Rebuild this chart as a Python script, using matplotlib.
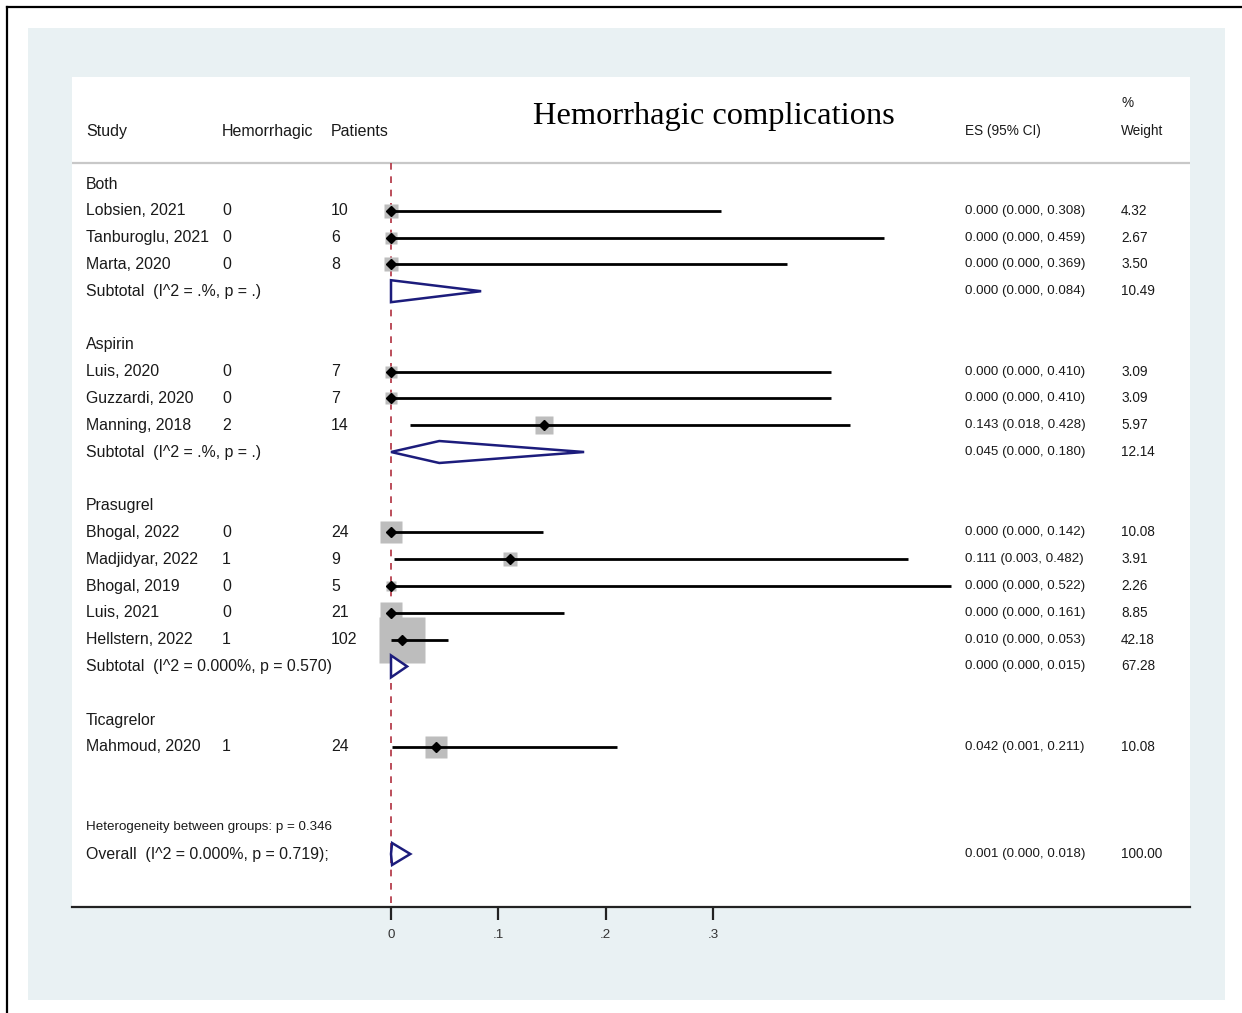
import numpy as np
import matplotlib
matplotlib.use("Agg")
import matplotlib.pyplot as plt
from matplotlib.transforms import blended_transform_factory
from matplotlib.lines import Line2D
from matplotlib.patches import Rectangle

plt.rcParams['font.family'] = ['Liberation Sans', 'DejaVu Sans']

# ---- data ----
groups = ["Both", "Aspirin", "Prasugrel", "Ticagrelor"]
group_of = [0, 0, 0, 1, 1, 1, 2, 2, 2, 2, 2, 3]
studies = ["Lobsien, 2021", "Tanburoglu, 2021", "Marta, 2020",
           "Luis, 2020", "Guzzardi, 2020", "Manning, 2018",
           "Bhogal, 2022", "Madjidyar, 2022", "Bhogal, 2019", "Luis, 2021", "Hellstern, 2022",
           "Mahmoud, 2020"]
events = [0, 0, 0, 0, 0, 2, 0, 1, 0, 0, 1, 1]
patients = [10, 6, 8, 7, 7, 14, 24, 9, 5, 21, 102, 24]
es = [0.000, 0.000, 0.000, 0.000, 0.000, 0.143, 0.000, 0.111, 0.000, 0.000, 0.010, 0.042]
lo = [0.000, 0.000, 0.000, 0.000, 0.000, 0.018, 0.000, 0.003, 0.000, 0.000, 0.000, 0.001]
hi = [0.308, 0.459, 0.369, 0.410, 0.410, 0.428, 0.142, 0.482, 0.522, 0.161, 0.053, 0.211]
weight = [4.32, 2.67, 3.50, 3.09, 3.09, 5.97, 10.08, 3.91, 2.26, 8.85, 42.18, 10.08]

sub_label = ["Subtotal  (I^2 = .%, p = .)", "Subtotal  (I^2 = .%, p = .)",
             "Subtotal  (I^2 = 0.000%, p = 0.570)", None]
sub_es = [0.000, 0.045, 0.000, None]
sub_lo = [0.000, 0.000, 0.000, None]
sub_hi = [0.084, 0.180, 0.015, None]
sub_w = [10.49, 12.14, 67.28, None]

overall_label = "Overall  (I^2 = 0.000%, p = 0.719);"
overall = (0.001, 0.000, 0.018, 100.00)
het_label = "Heterogeneity between groups: p = 0.346"
xticks = [0, 0.1, 0.2, 0.3]
xtick_labels = ["0", ".1", ".2", ".3"]

# ---- figure ----
W, H = 1242, 1013
fig = plt.figure(figsize=(W / 100, H / 100), dpi=100)
fig.patch.set_facecolor("white")
fig.patches.append(Rectangle((28 / W, 1 - 1000 / H), (1225 - 28) / W, (1000 - 28) / H,
                             transform=fig.transFigure, fc="#e9f1f3", ec="none", zorder=-10))
fig.lines.append(Line2D([7 / W, 7 / W], [0, 1 - 7 / H], transform=fig.transFigure, color="black", lw=1.6))
fig.lines.append(Line2D([7 / W, 1], [1 - 7 / H, 1 - 7 / H], transform=fig.transFigure, color="black", lw=1.6))

ax = fig.add_axes([72 / W, 1 - 907 / H, (1190 - 72) / W, (907 - 77) / H])
ax.set_zorder(5)
ax.set_facecolor("white")
px_per_unit = 1073.0
row_px = 26.8
ax.set_xlim((72 - 391) / px_per_unit, (1190 - 391) / px_per_unit)
ax.set_ylim((907 - 184) / row_px, (77 - 184) / row_px)

for s in ["top", "left", "right"]:
    ax.spines[s].set_visible(False)
ax.spines["bottom"].set_linewidth(1.6)
ax.spines["bottom"].set_color("#222222")
ax.set_yticks([])
ax.set_xticks(xticks)
ax.set_xticklabels(xtick_labels, fontsize=9.6, color="#333333")
ax.tick_params(axis="x", length=9.5, width=1.6, color="#222222", pad=6.5)

tr = blended_transform_factory(ax.transAxes, ax.transData)
def col(px):
    return (px - 72) / 1118.0

x_study, x_ev, x_pat, x_es, x_w = col(86), col(222), col(331), col(965), col(1121)
body = dict(fontsize=11.4, color="#1a1a1a", va="center", transform=tr)
small = dict(fontsize=9.6, color="#1a1a1a", va="center", transform=tr)
wsmall = dict(fontsize=9.8, color="#1a1a1a", va="center", transform=tr)

# headers
hdr_row = (131 - 184) / row_px
for x, t in [(x_study, "Study"), (x_ev, "Hemorrhagic"), (x_pat, "Patients")]:
    ax.text(x, hdr_row, t, fontsize=11.5, color="#1a1a1a", va="center", transform=tr)
ax.text(x_es, hdr_row, "ES (95% CI)", fontsize=9.8, color="#1a1a1a", va="center", transform=tr)
ax.text(x_w, hdr_row, "Weight", fontsize=9.8, color="#1a1a1a", va="center", transform=tr)
ax.text(x_w, (103 - 184) / row_px, "%", fontsize=9.8, color="#1a1a1a", va="center", transform=tr)
ax.text(col(714), (116 - 184) / row_px, "Hemorrhagic complications", fontsize=23.4,
        family=["Liberation Serif", "DejaVu Serif"], ha="center", va="center", transform=tr)

sep_row = (163 - 184) / row_px
ax.axhline(sep_row, color="#c8c8c8", lw=1.6, zorder=1)
ax.plot([0, 0], [sep_row, ax.get_ylim()[0]], color="#b03040", lw=1.2,
        dashes=(4, 4), zorder=2, clip_on=False)

box_k = 7.2 * 0.72   # marker side (pt) per sqrt(weight)
dh = 0.41

def pooled(row, e, l, h):
    ax.fill([l, e, h, e, l], [row, row - dh, row, row + dh, row],
            fc="white", ec="#1c1c7c", lw=1.8, zorder=4)

row = 0
study_rows = []
for g, name in enumerate(groups):
    ax.text(x_study, row, name, **body)
    row += 1
    for i in [k for k in range(len(studies)) if group_of[k] == g]:
        study_rows.append((i, row))
        row += 1
    if sub_label[g] is not None:
        ax.text(x_study, row, sub_label[g], **body)
        ax.text(x_es, row, f"{sub_es[g]:.3f} ({sub_lo[g]:.3f}, {sub_hi[g]:.3f})", **small)
        ax.text(x_w, row, f"{sub_w[g]:.2f}", **wsmall)
        pooled(row, sub_es[g], sub_lo[g], sub_hi[g])
        row += 2
    else:
        row += 3

for i, r in study_rows:
    ax.text(x_study, r, studies[i], **body)
    ax.text(x_ev, r, str(events[i]), **body)
    ax.text(x_pat, r, str(patients[i]), **body)
    ax.text(x_es, r, f"{es[i]:.3f} ({lo[i]:.3f}, {hi[i]:.3f})", **small)
    ax.text(x_w, r, f"{weight[i]:.2f}", **wsmall)
    ax.plot(es[i], r, marker="s", ms=box_k * np.sqrt(weight[i]), mfc="#bdbdbd", mec="none",
            ls="none", zorder=3)
    ax.plot([lo[i], hi[i]], [r, r], color="black", lw=2.0, solid_capstyle="butt", zorder=5)
    ax.plot(es[i], r, marker="D", ms=5.6, color="black", ls="none", zorder=6)

ax.text(x_study, row - 1, het_label, fontsize=9.6, color="#1a1a1a", va="center", transform=tr)
ax.text(x_study, row, overall_label, **body)
ax.text(x_es, row, f"{overall[0]:.3f} ({overall[1]:.3f}, {overall[2]:.3f})", **small)
ax.text(x_w, row, f"{overall[3]:.2f}", **wsmall)
pooled(row, overall[0], overall[1], overall[2])

fig.savefig("out.png", dpi=100)
